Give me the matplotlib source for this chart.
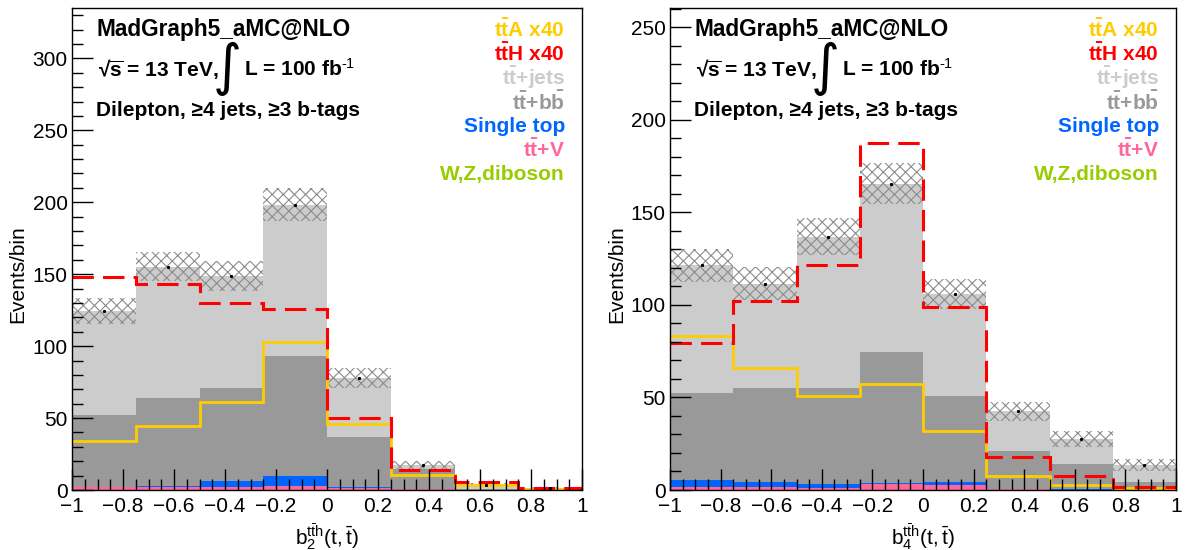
import numpy as np
import matplotlib.pyplot as plt
from matplotlib.ticker import MultipleLocator, FuncFormatter

plt.rcParams['font.family'] = ['Liberation Sans', 'DejaVu Sans']
plt.rcParams['mathtext.fontset'] = 'custom'
plt.rcParams['mathtext.rm'] = 'Liberation Sans'
plt.rcParams['mathtext.it'] = 'Liberation Sans:italic'
plt.rcParams['mathtext.bf'] = 'Liberation Sans:bold'
plt.rcParams['hatch.linewidth'] = 0.8

edges = np.linspace(-1, 1, 9)

# b2 distribution, stacked backgrounds (bottom to top)
b2_diboson = [0.2, 0.2, 0.2, 0.3, 0.2, 0.1, 0.05, 0.05]
b2_ttv = [1.6, 1.7, 2.2, 2.6, 1.2, 0.3, 0.1, 0.05]
b2_singletop = [0.3, 1.2, 3.6, 6.9, 1.0, 0.2, 0.05, 0.02]
b2_ttbb = [50.0, 61.0, 65.0, 83.0, 34.6, 14.0, 0.6, 0.2]
b2_ttjets = [72.0, 91.0, 77.5, 105.5, 41.0, 2.7, 2.7, 0.9]
b2_unc = [9.0, 10.0, 10.5, 11.5, 7.0, 3.0, 1.5, 0.8]
b2_tth = [148.0, 143.0, 130.0, 126.0, 50.0, 14.0, 5.5, 1.4]
b2_tta = [34.0, 44.5, 61.0, 103.0, 46.0, 10.3, 3.6, 1.0]

# b4 distribution
b4_diboson = [0.2, 0.2, 0.2, 0.2, 0.2, 0.1, 0.05, 0.05]
b4_ttv = [1.5, 1.5, 0.7, 2.8, 2.6, 0.3, 0.15, 0.05]
b4_singletop = [3.7, 2.4, 2.5, 0.8, 1.7, 0.2, 0.1, 0.05]
b4_ttbb = [47.1, 50.9, 51.6, 71.0, 46.5, 20.4, 13.7, 4.35]
b4_ttjets = [69.0, 56.5, 82.0, 90.7, 55.0, 21.5, 13.5, 9.0]
b4_unc = [9.0, 9.0, 10.0, 11.0, 8.0, 5.0, 4.5, 3.5]
b4_tth = [79.3, 102.3, 121.6, 187.6, 98.9, 18.1, 7.6, 1.7]
b4_tta = [83.2, 65.8, 50.8, 57.3, 32.0, 7.3, 2.6, 1.3]

bkg_colors = ['#99cc00', '#ff6699', '#0066ff', '#999999', '#cccccc']

legend = [
    (r'$\mathbf{t\bar{t}A}$ x40', '#ffcc00'),
    (r'$\mathbf{t\bar{t}H}$ x40', '#ff0000'),
    (r'$\mathbf{t\bar{t}}$+jets', '#cccccc'),
    (r'$\mathbf{t\bar{t}}$+$\mathbf{b\bar{b}}$', '#999999'),
    ('Single top', '#0066ff'),
    (r'$\mathbf{t\bar{t}}$+V', '#ff6699'),
    ('W,Z,diboson', '#99cc00'),
]


def tick_fmt(v, pos):
    return ('%g' % round(v, 3)).replace('-', '\u2212')


def draw_panel(ax, bkgs, unc, tth, tta, ymax, ymajor, xlabel):
    base = np.zeros(len(edges) - 1)
    for vals, col in zip(bkgs, bkg_colors):
        top = base + np.array(vals)
        ax.stairs(top, edges, baseline=base, fill=True, color=col, lw=0)
        base = top
    total = base
    unc = np.array(unc)
    ax.stairs(total + unc, edges, baseline=total - unc, fill=True,
              facecolor='none', edgecolor='#8c8c8c', hatch='xxx', lw=0)
    centers = 0.5 * (edges[1:] + edges[:-1])
    ax.plot(centers, total, ls='none', marker='s', ms=1.2, color='black')

    ax.stairs(tta, edges, baseline=None, color='#ffcc00', lw=2.0)
    ax.stairs(tth, edges, baseline=None, color='#ff0000', lw=2.2,
              ls=(0, (7, 3)))

    ax.set_xlim(-1, 1)
    ax.set_ylim(0, ymax)
    ax.xaxis.set_major_locator(MultipleLocator(0.2))
    ax.xaxis.set_minor_locator(MultipleLocator(0.05))
    ax.xaxis.set_major_formatter(FuncFormatter(tick_fmt))
    ax.yaxis.set_major_locator(MultipleLocator(ymajor))
    ax.yaxis.set_minor_locator(MultipleLocator(10))
    ax.tick_params(which='both', direction='in', top=False, right=False,
                   labelsize=15, width=1)
    ax.tick_params(which='major', length=15)
    ax.tick_params(which='minor', length=8)
    ax.tick_params(axis='y', pad=3)
    ax.tick_params(axis='x', pad=5)
    for s in ax.spines.values():
        s.set_linewidth(1)

    ax.set_ylabel('Events/bin', fontsize=15)
    ax.yaxis.set_label_coords(-0.087, 0.448)
    ax.set_xlabel(xlabel, fontsize=15)
    ax.xaxis.set_label_coords(0.5, -0.066)

    ax.annotate('MadGraph5_aMC@NLO', xy=(0, 0.956), xycoords='axes fraction',
                xytext=(24, 0), textcoords='offset pixels',
                fontsize=16.3, fontweight='bold', va='center')
    ax.annotate('\u221a$\\overline{\\mathbf{s}}$ = 13 TeV,', xy=(0, 0.873),
                xycoords='axes fraction', xytext=(26, 0),
                textcoords='offset pixels', fontsize=15, fontweight='bold',
                va='center')
    ax.annotate('\u222b', xy=(0, 0.873), xycoords='axes fraction',
                xytext=(155, 0), textcoords='offset pixels', fontsize=40,
                family='DejaVu Sans', va='center', ha='center')
    ax.annotate(r'L = 100 fb$^{\mathbf{\text{-1}}}$', xy=(0, 0.873),
                xycoords='axes fraction', xytext=(172, 0),
                textcoords='offset pixels', fontsize=15, fontweight='bold',
                va='center')
    ax.annotate('Dilepton, \u22654 jets, \u22653 b-tags', xy=(0, 0.788),
                xycoords='axes fraction', xytext=(24, 0),
                textcoords='offset pixels', fontsize=15, fontweight='bold',
                va='center')

    for i, (txt, col) in enumerate(legend):
        ax.annotate(txt, xy=(1, 0.954 - 0.0498 * i), xycoords='axes fraction',
                    xytext=(-17, 0), textcoords='offset pixels',
                    fontsize=15, fontweight='bold', color=col,
                    ha='right', va='center')


fig = plt.figure(figsize=(11.86, 5.5), dpi=100)
ax1 = fig.add_axes([72 / 1186, 60 / 550, 510 / 1186, 482 / 550])
ax2 = fig.add_axes([670 / 1186, 60 / 550, 506 / 1186, 482 / 550])

draw_panel(ax1, [b2_diboson, b2_ttv, b2_singletop, b2_ttbb, b2_ttjets],
           b2_unc, b2_tth, b2_tta, 335, 50,
           r'$\mathregular{b_{2}^{t\bar{t}h}(t,\bar{t})}$')
draw_panel(ax2, [b4_diboson, b4_ttv, b4_singletop, b4_ttbb, b4_ttjets],
           b4_unc, b4_tth, b4_tta, 260.5, 50,
           r'$\mathregular{b_{4}^{t\bar{t}h}(t,\bar{t})}$')

fig.savefig('out.png', dpi=100)
